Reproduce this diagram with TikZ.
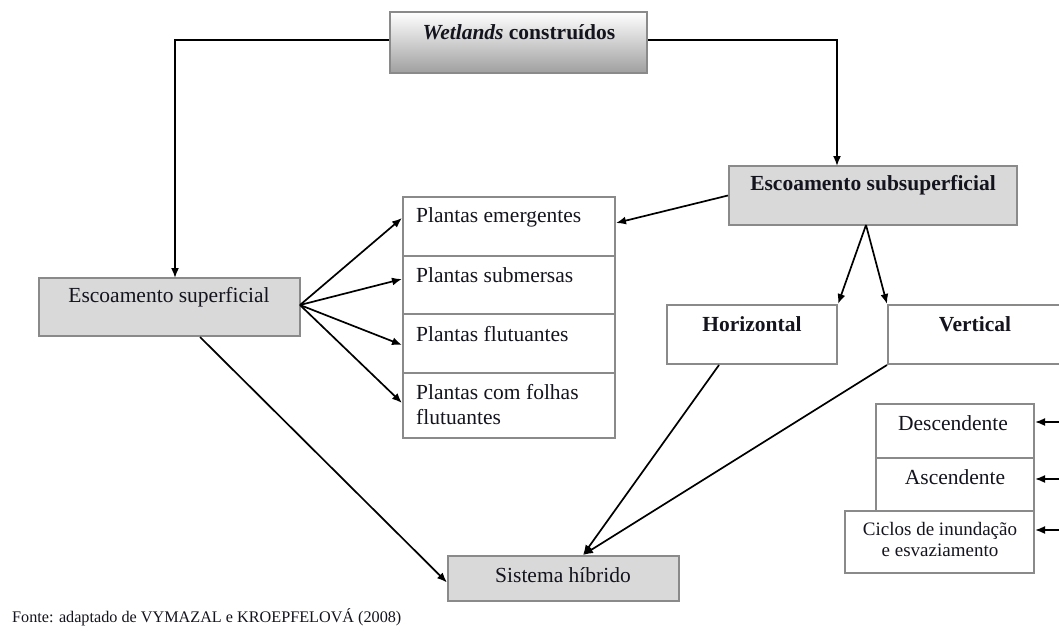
\documentclass[tikz,border=0pt]{standalone}
\usepackage{fontspec}
\setmainfont{Liberation Serif}
\usetikzlibrary{arrows.meta}
\definecolor{bordergray}{HTML}{8A8A8A}
\definecolor{boxfill}{HTML}{D9D9D9}
\definecolor{inkcol}{HTML}{14141E}
\tikzset{
  base/.style={draw=bordergray, line width=2pt, inner sep=0pt},
  graybox/.style={base, fill=boxfill},
  whitebox/.style={base, fill=white},
  shadebox/.style={base, top color=white, bottom color=gray!75},
  txt/.style={inner sep=0pt, text=inkcol, font=\fontsize{21.5}{25}\selectfont},
  btxt/.style={inner sep=0pt, text=inkcol, font=\fontsize{21.5}{25}\selectfont\bfseries},
  stxt/.style={inner sep=0pt, text=inkcol, align=center, font=\fontsize{19}{21}\selectfont},
  arr/.style={draw=black, line width=1.7pt, -{Latex[length=10pt,width=8pt]}},
}
\begin{document}
\begin{tikzpicture}[x=1pt,y=-1pt]
\useasboundingbox (0,0) rectangle (1059,634);
\clip (0,0) rectangle (1059,634);
\fill[white] (0,0) rectangle (1059,634);

% boxes
\node[shadebox, minimum width=257pt, minimum height=61pt] (wet) at (518.5,42.5) {};
\node[graybox, minimum width=261pt, minimum height=58pt] (es) at (169.5,307) {};
\node[graybox, minimum width=288pt, minimum height=59pt] (ess) at (873,195.5) {};
\node[whitebox, minimum width=212pt, minimum height=59pt] (p1) at (509,226.5) {};
\node[whitebox, minimum width=212pt, minimum height=58pt] (p2) at (509,285) {};
\node[whitebox, minimum width=212pt, minimum height=59pt] (p3) at (509,343.5) {};
\node[whitebox, minimum width=212pt, minimum height=65pt] (p4) at (509,405.5) {};
\node[whitebox, minimum width=170pt, minimum height=59pt] (hor) at (752,334.5) {};
\node[whitebox, minimum width=182pt, minimum height=59pt] (ver) at (979,334.5) {};
\node[whitebox, minimum width=158pt, minimum height=54pt] (desc) at (955,431) {};
\node[whitebox, minimum width=158pt, minimum height=53pt] (asc) at (955,484.5) {};
\node[whitebox, minimum width=189pt, minimum height=62pt] (cic) at (939.5,542) {};
\node[graybox, minimum width=231pt, minimum height=45pt] (sis) at (563.5,578.5) {};

% texts
\node[btxt] (wet-t) at (519,32) {\textit{Wetlands} construídos};
\node[txt] (es-t) at (169,297) {Escoamento superficial};
\node[btxt] (ess-t) at (873,185) {Escoamento subsuperficial};
\node[txt, anchor=west] (p1-t) at (416,217) {Plantas emergentes};
\node[txt, anchor=west] (p2-t) at (416,275) {Plantas submersas};
\node[txt, anchor=west] (p3-t) at (416,334) {Plantas flutuantes};
\node[txt, anchor=west, align=left] (p4-t) at (416,404.5) {Plantas com folhas\\flutuantes};
\node[btxt] (hor-t) at (752,324) {Horizontal};
\node[btxt] (ver-t) at (975,324) {Vertical};
\node[txt] (desc-t) at (953,423) {Descendente};
\node[txt] (asc-t) at (955,477) {Ascendente};
\node[stxt] (cic-t) at (940,539.5) {Ciclos de inundação\\e esvaziamento};
\node[txt] (sis-t) at (563,575) {Sistema híbrido};
\node[inner sep=0pt, anchor=west, text=inkcol, font=\fontsize{16.2}{18}\selectfont] (fonte) at (12,617) {Fonte: adaptado de VYMAZAL e KROEPFELOVÁ (2008)};

% connectors
\coordinate (esin) at (175,278);
\coordinate (essin) at (837,166);
\draw[arr] ([yshift=2.5pt]wet.west) -| (esin);
\draw[arr] ([yshift=2.5pt]wet.east) -| (essin);

\coordinate (esout) at (300,305);
\draw[arr] (esout) -- ([yshift=8.5pt]p1.west);
\draw[arr] (esout) -- ([yshift=6pt]p2.west);
\draw[arr] (esout) -- ([yshift=-1.5pt]p3.west);
\draw[arr] (esout) -- ([yshift=2.5pt]p4.west);

\draw[arr] (ess.west) -- ([yshift=3.5pt]p1.east);
\coordinate (essout) at (866,225);
\draw[arr] (essout) -- (hor.north east);
\draw[arr] (essout) -- (ver.north west);

\draw[arr] ([xshift=30.5pt]es.south) -- ([yshift=-4pt]sis.west);
\draw[arr] ([xshift=-33pt]hor.south) -- ([xshift=19.5pt]sis.north);
\draw[arr] (ver.south west) -- ([xshift=19.5pt]sis.north);

\coordinate (r1) at (1062,422);
\coordinate (r2) at (1062,479);
\coordinate (r3) at (1062,530);
\draw[arr] (r1) -- (desc.east |- r1);
\draw[arr] (r2) -- (asc.east |- r2);
\draw[arr] (r3) -- (cic.east |- r3);
\end{tikzpicture}
\end{document}
